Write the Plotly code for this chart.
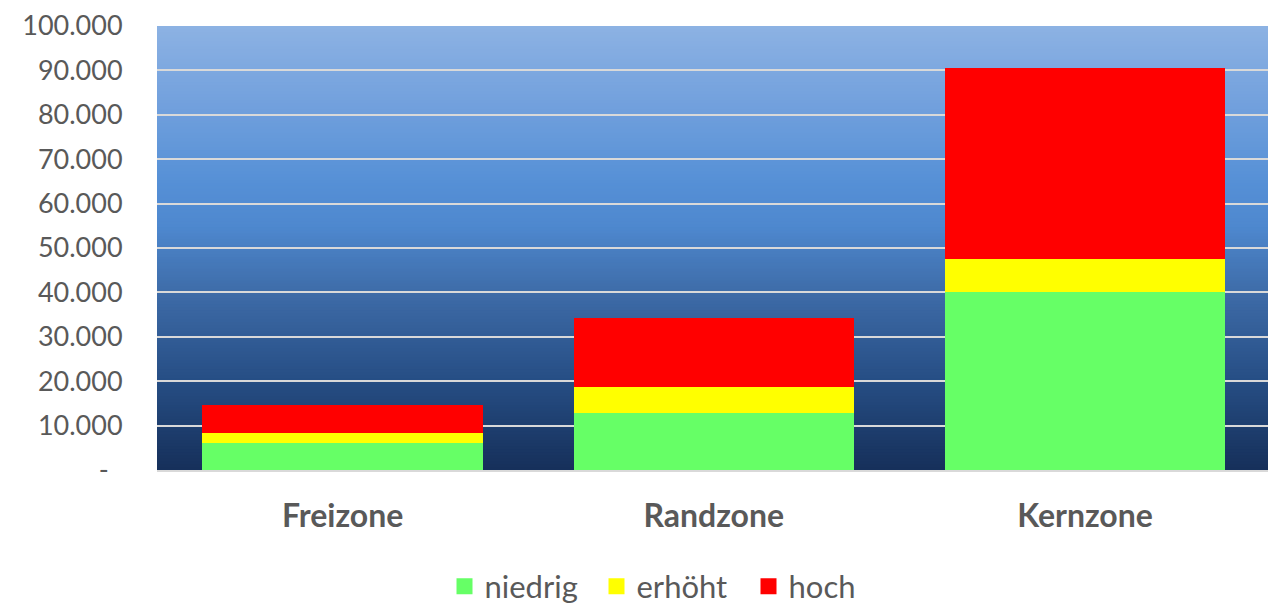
import plotly.graph_objects as go

categories = ["Freizone", "Randzone", "Kernzone"]
niedrig = [6100, 12800, 40200]
erhoeht = [2300, 5900, 7400]
hoch = [6200, 15600, 43000]

series_names = ["niedrig", "erhöht", "hoch"]
series_colors = ["#66FF66", "#FFFF00", "#FF0000"]

tick_vals = [0, 10000, 20000, 30000, 40000, 50000, 60000, 70000, 80000, 90000, 100000]
tick_text = ["-\u00a0\u00a0", "10.000", "20.000", "30.000", "40.000", "50.000",
             "60.000", "70.000", "80.000", "90.000", "100.000"]

FONT = "Lato, 'Open Sans', sans-serif"
GRAY = "#595959"

fig = go.Figure()
for name, vals, col in zip(series_names, [niedrig, erhoeht, hoch], series_colors):
    fig.add_trace(go.Bar(x=categories, y=vals, name=name, marker=dict(color=col, line=dict(width=0)),
                         showlegend=False))
for name, col in zip(series_names, series_colors):
    fig.add_trace(go.Scatter(x=[None], y=[None], mode="markers", name=name,
                             marker=dict(symbol="square", size=19, color=col)))

# gradient background
stops = [(0.0, (22, 48, 90)), (0.2, (38, 77, 132)), (0.4, (62, 108, 168)),
         (0.55, (78, 136, 207)), (0.65, (86, 144, 214)), (0.85, (118, 163, 222)),
         (1.0, (141, 178, 227))]

def col_at(t):
    for (t0, c0), (t1, c1) in zip(stops[:-1], stops[1:]):
        if t0 <= t <= t1:
            f = (t - t0) / (t1 - t0)
            return "rgb(%d,%d,%d)" % tuple(round(a + (b - a) * f) for a, b in zip(c0, c1))
    return "rgb(%d,%d,%d)" % stops[-1][1]

N = 150
shapes = []
for i in range(N):
    y0 = i / N
    y1 = (i + 1) / N + 0.002
    shapes.append(dict(type="rect", xref="x domain", yref="y domain", x0=0, x1=1, y0=y0, y1=min(y1, 1),
                       fillcolor=col_at((i + 0.5) / N), line=dict(width=0), layer="below"))

fig.update_layout(
    width=1268, height=606,
    barmode="stack", bargap=0.245,
    margin=dict(l=157, r=0, t=26, b=136, autoexpand=False),
    paper_bgcolor="white", plot_bgcolor="rgba(0,0,0,0)",
    shapes=shapes,
    font=dict(family=FONT, color=GRAY),
    legend=dict(orientation="h", xanchor="center", x=0.464, yref="container", y=0.032, yanchor="middle",
                font=dict(size=31, color=GRAY, family=FONT), traceorder="normal",
                entrywidth=107, entrywidthmode="pixels", bgcolor="rgba(0,0,0,0)"),
)
fig.update_xaxes(range=[-0.5, 2.493], showgrid=False, showline=True, linecolor="#D9D9D9", linewidth=2,
                 tickfont=dict(size=32, color=GRAY, family=FONT, weight="bold"), ticks="outside",
                 ticklen=0, ticklabelstandoff=17, automargin=False)
fig.update_yaxes(range=[0, 100000], tickvals=tick_vals, ticktext=tick_text, showgrid=True,
                 gridcolor="#D9D9D9", gridwidth=2, zeroline=False, showline=False,
                 tickfont=dict(size=27, color=GRAY, family=FONT), ticks="outside", ticklen=0,
                 ticklabelstandoff=28, automargin=False)

fig.write_html("out.html", config={"displayModeBar": False},
               post_script="document.body.style.margin='0';document.body.style.overflow='hidden';")
